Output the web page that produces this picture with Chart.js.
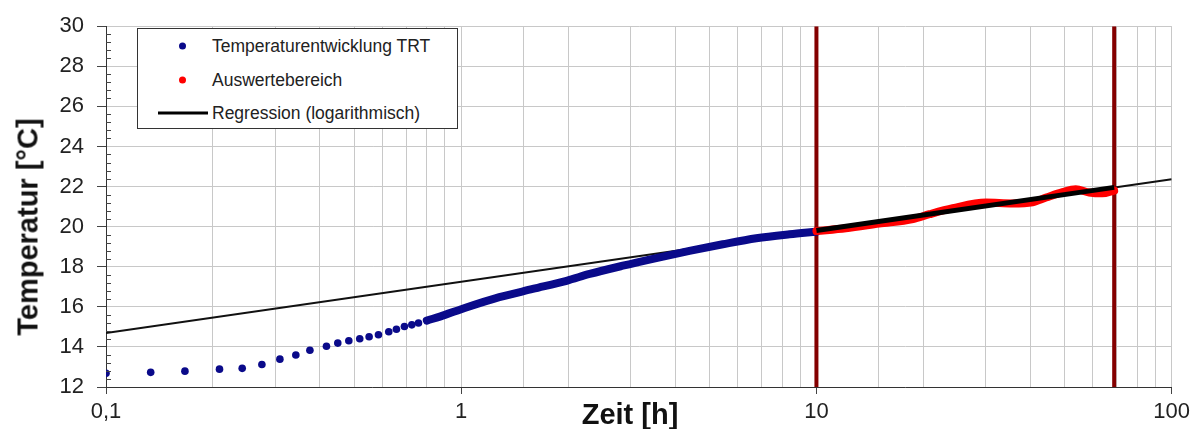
<!DOCTYPE html>
<html>
<head>
<meta charset="utf-8">
<script src="https://cdn.jsdelivr.net/npm/chart.js@4.4.1/dist/chart.umd.min.js"></script>
<style>
    html, body { margin: 0; padding: 0; background: #fff; }
    #wrap { position: relative; width: 1195px; height: 429px; font-family: "Liberation Sans", Arial, sans-serif; }
    #yTitle { position: absolute; left: 28px; top: 227px; transform: translate(-50%, -50%) rotate(-90deg);
        font-weight: bold; font-size: 29px; color: #111; white-space: nowrap; }
    #xTitle { position: absolute; left: 630px; top: 414px; transform: translate(-50%, -50%);
        font-weight: bold; font-size: 29px; color: #111; white-space: nowrap; }
    #legend { position: absolute; left: 137px; top: 28px; width: 321px; height: 101px;
        border: 1px solid #333; background: #fff; box-sizing: border-box; }
    .row { position: absolute; left: 0; height: 20px; font-size: 17.5px; color: #222; }
    .row span.txt { position: absolute; left: 74px; top: 50%; transform: translateY(-50%); white-space: nowrap; }
    .dot { position: absolute; left: 41px; top: 50%; width: 7px; height: 7px; border-radius: 50%; transform: translateY(-50%); }
    .ln { position: absolute; left: 20px; top: 50%; width: 50px; height: 3px; background: #000; transform: translateY(-50%); }
</style>
</head>
<body>
<div id="wrap">
    <canvas id="chart" width="1195" height="429"></canvas>
    <div id="legend">
        <div class="row" style="top:7px"><div class="dot" style="background:#0a0a8a"></div><span class="txt">Temperaturentwicklung TRT</span></div>
        <div class="row" style="top:41px"><div class="dot" style="background:#ff0000"></div><span class="txt">Auswertebereich</span></div>
        <div class="row" style="top:74px"><div class="ln"></div><span class="txt">Regression (logarithmisch)</span></div>
    </div>
    <div id="yTitle">Temperatur [°C]</div>
    <div id="xTitle">Zeit [h]</div>
</div>
<script>
// early measurements, single dots
const trtTime = [0.1, 0.1336, 0.1668, 0.2087, 0.2418, 0.2747, 0.3087, 0.3423, 0.375, 0.4175,
    0.4493, 0.4826, 0.518, 0.5505, 0.5848, 0.6252, 0.657, 0.692, 0.726, 0.758];
const trtTemp = [12.68, 12.73, 12.79, 12.89, 12.93, 13.12, 13.39, 13.6, 13.83, 14.03,
    14.19, 14.31, 14.41, 14.51, 14.61, 14.76, 14.88, 15.02, 15.1, 15.19];

// later measurements, so dense they form a band
const trtBandTime = [0.8, 0.9, 1.0, 1.28, 1.59, 1.98, 2.3, 2.85, 3.54, 4.39, 5.45, 6.77, 8.4, 10];
const trtBandTemp = [15.31, 15.6, 15.88, 16.48, 16.89, 17.3, 17.64, 18.05, 18.43, 18.79, 19.12, 19.42, 19.62, 19.75];

// evaluation range
const evalTime = [10, 12.1, 15, 18.7, 20.8, 24.2, 30, 35.6, 40.6, 44.3, 49.3, 53.7, 58.6, 63.8, 68.9];
const evalTemp = [19.78, 19.92, 20.15, 20.38, 20.62, 20.92, 21.2, 21.16, 21.22, 21.45, 21.72, 21.86, 21.7, 21.66, 21.8];

// regression line, whole axis and fitted range
const regTime = [0.1, 100];
const regTemp = [14.69, 22.37];
const regFitTime = [10, 68.9];
const regFitTemp = [19.81, 21.96];

// evaluation range limits
const limitTimes = [10, 68.9];
const yRange = [12, 30];

const xTickLabels = { 0.1: '0,1', 1: '1', 10: '10', 100: '100' };

const BLUE = '#0a0a8a';
const RED = '#ff0000';
const DARKRED = '#840000';

function pts(xs, ys) {
    return xs.map((x, i) => ({ x, y: ys[i] }));
}

function isDecade(v) {
    const l = Math.log10(v);
    return Math.abs(l - Math.round(l)) < 1e-6;
}

const limitSets = limitTimes.map(t => ({
    data: pts([t, t], yRange),
    showLine: true,
    borderColor: DARKRED,
    borderWidth: 4,
    pointRadius: 0,
    order: 10
}));

// small minor ticks on the inside of the y axis
const minorTicks = {
    id: 'minorTicks',
    afterDatasetsDraw(chart) {
        const y = chart.scales.y;
        const ctx = chart.ctx;
        ctx.save();
        ctx.strokeStyle = '#444';
        ctx.lineWidth = 1;
        for (let v = 12; v <= 30.001; v += 0.4) {
            if (Math.abs(v / 2 - Math.round(v / 2)) < 1e-6) continue;
            const py = Math.round(y.getPixelForValue(v)) + 0.5;
            ctx.beginPath();
            ctx.moveTo(y.right, py);
            ctx.lineTo(y.right + 5, py);
            ctx.stroke();
        }
        ctx.restore();
    }
};

new Chart(document.getElementById('chart').getContext('2d'), {
    type: 'scatter',
    data: {
        datasets: [
            {
                data: pts(regFitTime, regFitTemp),
                showLine: true,
                borderColor: '#000',
                borderWidth: 5,
                pointRadius: 0,
                order: 1
            },
            {
                data: pts(evalTime, evalTemp),
                showLine: true,
                borderColor: RED,
                borderWidth: 8,
                cubicInterpolationMode: 'monotone',
                borderCapStyle: 'round',
                borderJoinStyle: 'round',
                pointRadius: 0,
                order: 2
            },
            {
                data: pts(trtBandTime, trtBandTemp),
                showLine: true,
                borderColor: BLUE,
                borderWidth: 8,
                cubicInterpolationMode: 'monotone',
                borderCapStyle: 'round',
                borderJoinStyle: 'round',
                pointRadius: 0,
                order: 3
            },
            {
                data: pts(trtTime, trtTemp),
                backgroundColor: BLUE,
                borderColor: BLUE,
                pointRadius: 3.8,
                borderWidth: 0,
                order: 4
            },
            {
                data: pts(regTime, regTemp),
                showLine: true,
                borderColor: '#111',
                borderWidth: 2,
                pointRadius: 0,
                order: 5
            },
            ...limitSets
        ]
    },
    options: {
        responsive: false,
        animation: false,
        events: [],
        layout: { padding: { top: 24, right: 23, left: 0, bottom: 0 } },
        plugins: {
            legend: { display: false },
            tooltip: { enabled: false }
        },
        scales: {
            x: {
                type: 'logarithmic',
                min: 0.1,
                max: 100,
                afterFit(s) { s.height = 42; },
                border: { display: true, color: '#333', width: 1 },
                grid: {
                    color: '#c8c8c8',
                    lineWidth: 1,
                    tickLength: 7,
                    tickColor: c => (c.tick && isDecade(c.tick.value)) ? '#444' : 'rgba(0,0,0,0)'
                },
                ticks: {
                    autoSkip: false,
                    maxRotation: 0,
                    padding: 5,
                    color: '#222',
                    font: { family: '"Liberation Sans", Arial, sans-serif', size: 22 },
                    callback: v => xTickLabels[v] !== undefined && isDecade(v) ? xTickLabels[v] : ''
                }
            },
            y: {
                min: yRange[0],
                max: yRange[1],
                afterFit(s) { s.width = 106; },
                border: { display: true, color: '#333', width: 1 },
                grid: {
                    color: '#c8c8c8',
                    lineWidth: 1,
                    tickLength: 9,
                    tickColor: '#444'
                },
                ticks: {
                    stepSize: 2,
                    padding: 13,
                    color: '#222',
                    font: { family: '"Liberation Sans", Arial, sans-serif', size: 22 }
                }
            }
        }
    },
    plugins: [minorTicks]
});
</script>
</body>
</html>
